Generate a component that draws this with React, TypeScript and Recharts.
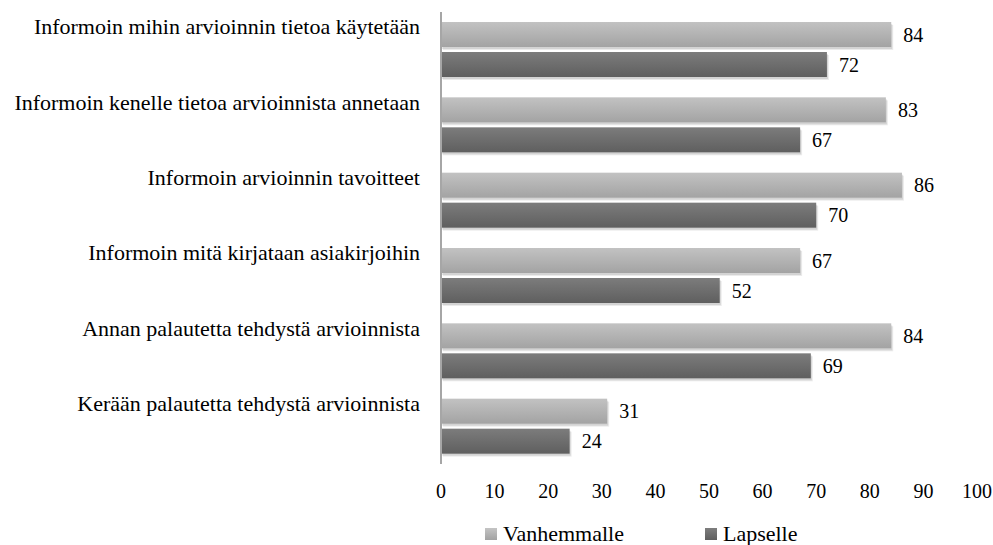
import React from "react";
import { BarChart, Bar, XAxis, YAxis, LabelList } from "recharts";

const categories = [
  "Informoin mihin arvioinnin tietoa käytetään",
  "Informoin kenelle tietoa arvioinnista annetaan",
  "Informoin arvioinnin tavoitteet",
  "Informoin mitä kirjataan asiakirjoihin",
  "Annan palautetta tehdystä arvioinnista",
  "Kerään palautetta tehdystä arvioinnista",
];
const vanhemmalle = [84, 83, 86, 67, 84, 31];
const lapselle = [72, 67, 70, 52, 69, 24];
const xTicks = [0, 10, 20, 30, 40, 50, 60, 70, 80, 90, 100];
const seriesNames = ["Vanhemmalle", "Lapselle"];

const data = categories.map((name, i) => ({
  name,
  vanhemmalle: vanhemmalle[i],
  lapselle: lapselle[i],
}));

const FONT = "Liberation Serif";

const CategoryTick = (props: any) => {
  const { x, y, payload } = props;
  return (
    <text x={x - 21} y={y - 15.5} textAnchor="end" style={{ fontFamily: FONT, fontSize: 22 }} fill="#000">
      {payload.value}
    </text>
  );
};

const ValueTick = (props: any) => {
  const { x, y, payload } = props;
  return (
    <text x={x} y={y + 34} textAnchor="middle" style={{ fontFamily: FONT, fontSize: 20 }} fill="#000">
      {payload.value}
    </text>
  );
};

// bar with a soft shadow drawn as offset translucent rects (no svg filter)
const ShadowBar = (props: any) => {
  const { x, y, width, height, fill } = props;
  if (!width || width <= 0) return null;
  return (
    <g>
      <rect x={x + 2} y={y + 3} width={width} height={height} fill="#000" fillOpacity={0.08} />
      <rect x={x + 1} y={y + 2} width={width} height={height} fill="#000" fillOpacity={0.1} />
      <rect x={x} y={y} width={width} height={height} fill={fill} />
    </g>
  );
};

const swatch = (light: boolean): React.CSSProperties => ({
  display: "inline-block",
  width: 12,
  height: 12,
  marginRight: 6,
  background: light
    ? "linear-gradient(#c4c4c4, #a2a2a2)"
    : "linear-gradient(#7e7e7e, #5e5e5e)",
});

const labelStyle = { fontFamily: FONT, fontSize: 20 };

export default function App() {
  return (
    <div style={{ position: "absolute", left: 0, top: 0, width: 993, height: 545 }}>
      <BarChart
        width={993}
        height={545}
        data={data}
        layout="vertical"
        margin={{ top: 12, right: 16, bottom: 41, left: 0 }}
        barCategoryGap={10}
        barGap={5}
      >
        <defs>
          <linearGradient id="gradLight" x1="0" y1="0" x2="0" y2="1">
            <stop offset="0%" stopColor="#c2c2c2" />
            <stop offset="100%" stopColor="#a3a3a3" />
          </linearGradient>
          <linearGradient id="gradDark" x1="0" y1="0" x2="0" y2="1">
            <stop offset="0%" stopColor="#7c7c7c" />
            <stop offset="100%" stopColor="#5f5f5f" />
          </linearGradient>
        </defs>
        <XAxis
          type="number"
          domain={[0, 100]}
          ticks={xTicks}
          axisLine={false}
          tickLine={false}
          tickSize={0}
          tickMargin={0}
          height={40}
          tick={<ValueTick />}
          interval={0}
        />
        <YAxis
          type="category"
          dataKey="name"
          width={441}
          axisLine={{ stroke: "#a6a6a6", strokeWidth: 2 }}
          tickLine={false}
          tickSize={0}
          tickMargin={0}
          tick={<CategoryTick />}
          interval={0}
        />
        <Bar dataKey="vanhemmalle" name={seriesNames[0]} fill="url(#gradLight)" shape={<ShadowBar />} isAnimationActive={false}>
          <LabelList dataKey="vanhemmalle" position="right" offset={12} style={labelStyle} fill="#000" />
        </Bar>
        <Bar dataKey="lapselle" name={seriesNames[1]} fill="url(#gradDark)" shape={<ShadowBar />} isAnimationActive={false}>
          <LabelList dataKey="lapselle" position="right" offset={12} style={labelStyle} fill="#000" />
        </Bar>
      </BarChart>
      <div
        style={{
          position: "absolute",
          left: 485,
          top: 523,
          display: "flex",
          alignItems: "center",
          fontFamily: FONT,
          fontSize: 22,
          lineHeight: "22px",
          color: "#000",
          whiteSpace: "nowrap",
        }}
      >
        <span style={{ display: "flex", alignItems: "center", marginRight: 81 }}>
          <span style={swatch(true)} />
          {seriesNames[0]}
        </span>
        <span style={{ display: "flex", alignItems: "center" }}>
          <span style={swatch(false)} />
          {seriesNames[1]}
        </span>
      </div>
    </div>
  );
}
